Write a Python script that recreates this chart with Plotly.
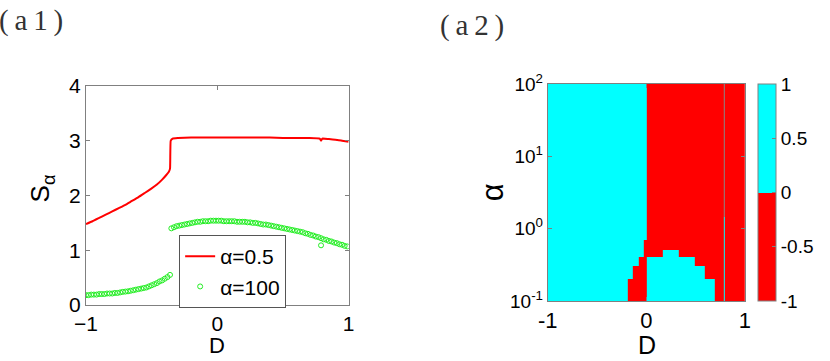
import numpy as np
import plotly.graph_objects as go

# ---- panel (a1): S_alpha vs D ----
red_d = [-1.0, -0.95, -0.9, -0.85, -0.8, -0.75, -0.7, -0.65, -0.6, -0.55, -0.5,
         -0.46, -0.42, -0.39, -0.37, -0.36, -0.355, -0.34, -0.3, -0.2, -0.1, 0.0,
         0.1, 0.2, 0.3, 0.4, 0.5, 0.6, 0.7, 0.78, 0.79, 0.80, 0.85, 0.9, 0.95, 1.0]
red_s = [1.48, 1.53, 1.59, 1.65, 1.71, 1.77, 1.83, 1.90, 1.97, 2.05, 2.13,
         2.20, 2.29, 2.37, 2.43, 2.49, 3.00, 3.04, 3.05, 3.06, 3.06, 3.06,
         3.06, 3.06, 3.06, 3.06, 3.05, 3.05, 3.05, 3.04, 3.00, 3.04, 3.03, 3.02, 3.00, 2.98]

grn_d = [-1.0, -0.98, -0.96, -0.94, -0.92, -0.9, -0.88, -0.86, -0.84, -0.82, -0.8,
         -0.78, -0.76, -0.74, -0.72, -0.7, -0.68, -0.66, -0.64, -0.62, -0.6,
         -0.58, -0.56, -0.54, -0.52, -0.5, -0.48, -0.46, -0.44, -0.42, -0.4,
         -0.38, -0.36,
         -0.35, -0.33, -0.31, -0.29, -0.27, -0.25, -0.23, -0.21, -0.19, -0.17,
         -0.15, -0.13, -0.11, -0.09, -0.07, -0.05, -0.03, -0.01, 0.01, 0.03,
         0.05, 0.07, 0.09, 0.11, 0.13, 0.15, 0.17, 0.19, 0.21, 0.23, 0.25,
         0.27, 0.29, 0.31, 0.33, 0.35, 0.37, 0.39, 0.41, 0.43, 0.45, 0.47,
         0.49, 0.51, 0.53, 0.55, 0.57, 0.59, 0.61, 0.63, 0.65, 0.67, 0.69,
         0.71, 0.73, 0.75, 0.77, 0.79, 0.81, 0.83, 0.85, 0.87, 0.89, 0.91,
         0.93, 0.95, 0.97, 0.99, 0.79]
grn_s = [0.18, 0.18, 0.19, 0.19, 0.19, 0.20, 0.20, 0.20, 0.21, 0.21, 0.21,
         0.22, 0.22, 0.23, 0.24, 0.245, 0.25, 0.26, 0.27, 0.28, 0.29,
         0.30, 0.31, 0.32, 0.34, 0.36, 0.38, 0.40, 0.43, 0.45, 0.48,
         0.51, 0.55,
         1.40, 1.42, 1.44, 1.45, 1.46, 1.47, 1.48, 1.49, 1.50, 1.51,
         1.52, 1.52, 1.53, 1.53, 1.53, 1.54, 1.54, 1.54, 1.54, 1.54,
         1.53, 1.53, 1.53, 1.53, 1.53, 1.52, 1.52, 1.52, 1.52, 1.51, 1.51,
         1.50, 1.50, 1.49, 1.48, 1.47, 1.47, 1.46, 1.45, 1.44, 1.43, 1.42,
         1.41, 1.40, 1.39, 1.38, 1.37, 1.36, 1.35, 1.34, 1.33, 1.31, 1.30,
         1.28, 1.27, 1.25, 1.24, 1.22, 1.20, 1.19, 1.17, 1.16, 1.14, 1.13,
         1.11, 1.10, 1.08, 1.07, 1.09]

# ---- panel (a2): sign map over (D, alpha) ----
d_edges = [-1.0, -0.19, -0.14, -0.08, -0.03, 0.005, 0.17, 0.33, 0.49, 0.59, 0.69, 0.785, 0.80, 1.0]
col_top = [1, 1, 1, 1, 1, -1, -1, -1, -1, -1, -1, -1, -1]
col_bottom = [1, -1, -1, -1, -1, 1, 1, 1, 1, 1, -1, 1, -1]
col_boundary = [0.1, 0.2, 0.3, 0.41, 0.7, 0.41, 0.51, 0.41, 0.3, 0.2, 0.1, 1.45, 0.1]
alpha_edges = [0.1, 0.2, 0.3, 0.41, 0.51, 0.7, 1.45, 100.0]

# grey seam seen at D ~ 0.79 above alpha ~ 1.45
seam_d = [0.79, 0.79]
seam_alpha = [1.45, 100.0]

FONT = "Liberation Sans"
AX = "#808080"

# plot area spans pixels x 86..751, y 84..305
L, R, T, B = 86, 830 - 751, 84, 361 - 305
PW, PH = 830 - L - R, 361 - T - B


def px(x):
    return (x - L) / PW


def py(y):
    return (361 - B - y) / PH


y_edges = np.log10(alpha_edges)
y_mid = (y_edges[:-1] + y_edges[1:]) / 2
z = []
for ym in y_mid:
    row = []
    for top, bot, b in zip(col_top, col_bottom, col_boundary):
        row.append(bot if ym < np.log10(b) else top)
    z.append(row)

fig = go.Figure()

fig.add_trace(go.Scatter(x=red_d, y=red_s, mode="lines", name="α=0.5",
                         line=dict(color="#ff0000", width=2, shape="spline", smoothing=0.3),
                         xaxis="x", yaxis="y"))
fig.add_trace(go.Scatter(x=grn_d, y=grn_s, mode="markers", name="α=100",
                         marker=dict(symbol="circle-open", color="#22ee22", size=5,
                                     line=dict(width=1, color="#22ee22")),
                         xaxis="x", yaxis="y"))

fig.add_trace(go.Heatmap(x=d_edges, y=y_edges, z=z, zmin=-1, zmax=1,
                         colorscale=[[0, "#ff0000"], [0.5, "#ff0000"],
                                     [0.5, "#00ffff"], [1, "#00ffff"]],
                         xaxis="x2", yaxis="y2", showscale=True,
                         colorbar=dict(x=px(764), xanchor="left", xpad=0, ypad=0,
                                       thicknessmode="pixels", thickness=18,
                                       lenmode="pixels", len=217,
                                       y=py(192.5), yanchor="middle",
                                       outlinecolor=AX, outlinewidth=1,
                                       tickvals=[-1, -0.5, 0, 0.5, 1],
                                       ticktext=["-1", "-0.5", "0", "0.5", "1"],
                                       ticks="inside", ticklen=4, tickcolor=AX,
                                       tickfont=dict(family=FONT, size=19, color="black")),
                         hoverinfo="skip"))
fig.add_trace(go.Scatter(x=seam_d, y=np.log10(seam_alpha), mode="lines", showlegend=False,
                         line=dict(color="#888888", width=1), xaxis="x2", yaxis="y2",
                         hoverinfo="skip"))

axis_common = dict(showgrid=False, zeroline=False, showline=True, linecolor=AX,
                   linewidth=1, mirror="ticks", ticks="inside", ticklen=4,
                   tickcolor=AX, automargin=False,
                   tickfont=dict(family=FONT, size=21, color="black"))

fig.update_layout(
    width=830, height=361,
    margin=dict(l=L, r=R, t=T, b=B),
    paper_bgcolor="white", plot_bgcolor="white",
    showlegend=True,
    xaxis=dict(domain=[px(86), px(351)], range=[-1, 1],
               tickvals=[-1, 0, 1], anchor="y", **axis_common),
    yaxis=dict(domain=[py(305), py(86)], range=[0, 4],
               tickvals=[0, 1, 2, 3, 4], anchor="x", **axis_common),
    xaxis2=dict(domain=[px(552), px(751)], range=[-1, 1],
                tickvals=[-1, 0, 1], ticktext=["-1", "0", "1"], anchor="y2",
                **{**axis_common, "tickfont": dict(family=FONT, size=22, color="black")}),
    yaxis2=dict(domain=[py(301), py(84)], range=[-1, 2],
                tickvals=[-1, 0, 1, 2],
                ticktext=["10<sup>-1</sup>", "10<sup>0</sup>", "10<sup>1</sup>", "10<sup>2</sup>"],
                anchor="x2",
                **{**axis_common, "tickfont": dict(family=FONT, size=19, color="black")}),
    legend=dict(x=px(180), y=py(235), xanchor="left", yanchor="top",
                bgcolor="white", bordercolor="#555555", borderwidth=1,
                font=dict(family=FONT, size=21, color="black"),
                itemwidth=30, tracegroupgap=0),
)


def label(text, x, y, size, angle=0, family=FONT, color="black"):
    fig.add_annotation(text=text, x=px(x), y=py(y), xref="paper", yref="paper",
                       xanchor="center", yanchor="middle", showarrow=False,
                       textangle=angle, font=dict(family=family, size=size, color=color))


# axis titles
label("D", 218.5, 345, 22)
label("S<sub>α</sub>", 41, 188, 26, angle=-90)
label("D", 652, 345, 25)
label("α", 496, 192, 31, angle=-90)

# panel tags
label("(\u2009a\u20091\u2009)", 31, 21, 29, family="Liberation Serif", color="#333333")
label("(\u2009a\u20092\u2009)", 476, 25, 29, family="Liberation Serif", color="#333333")

fig.write_html("out.html", config={"displayModeBar": False},
               post_script="document.body.style.margin='0';")
